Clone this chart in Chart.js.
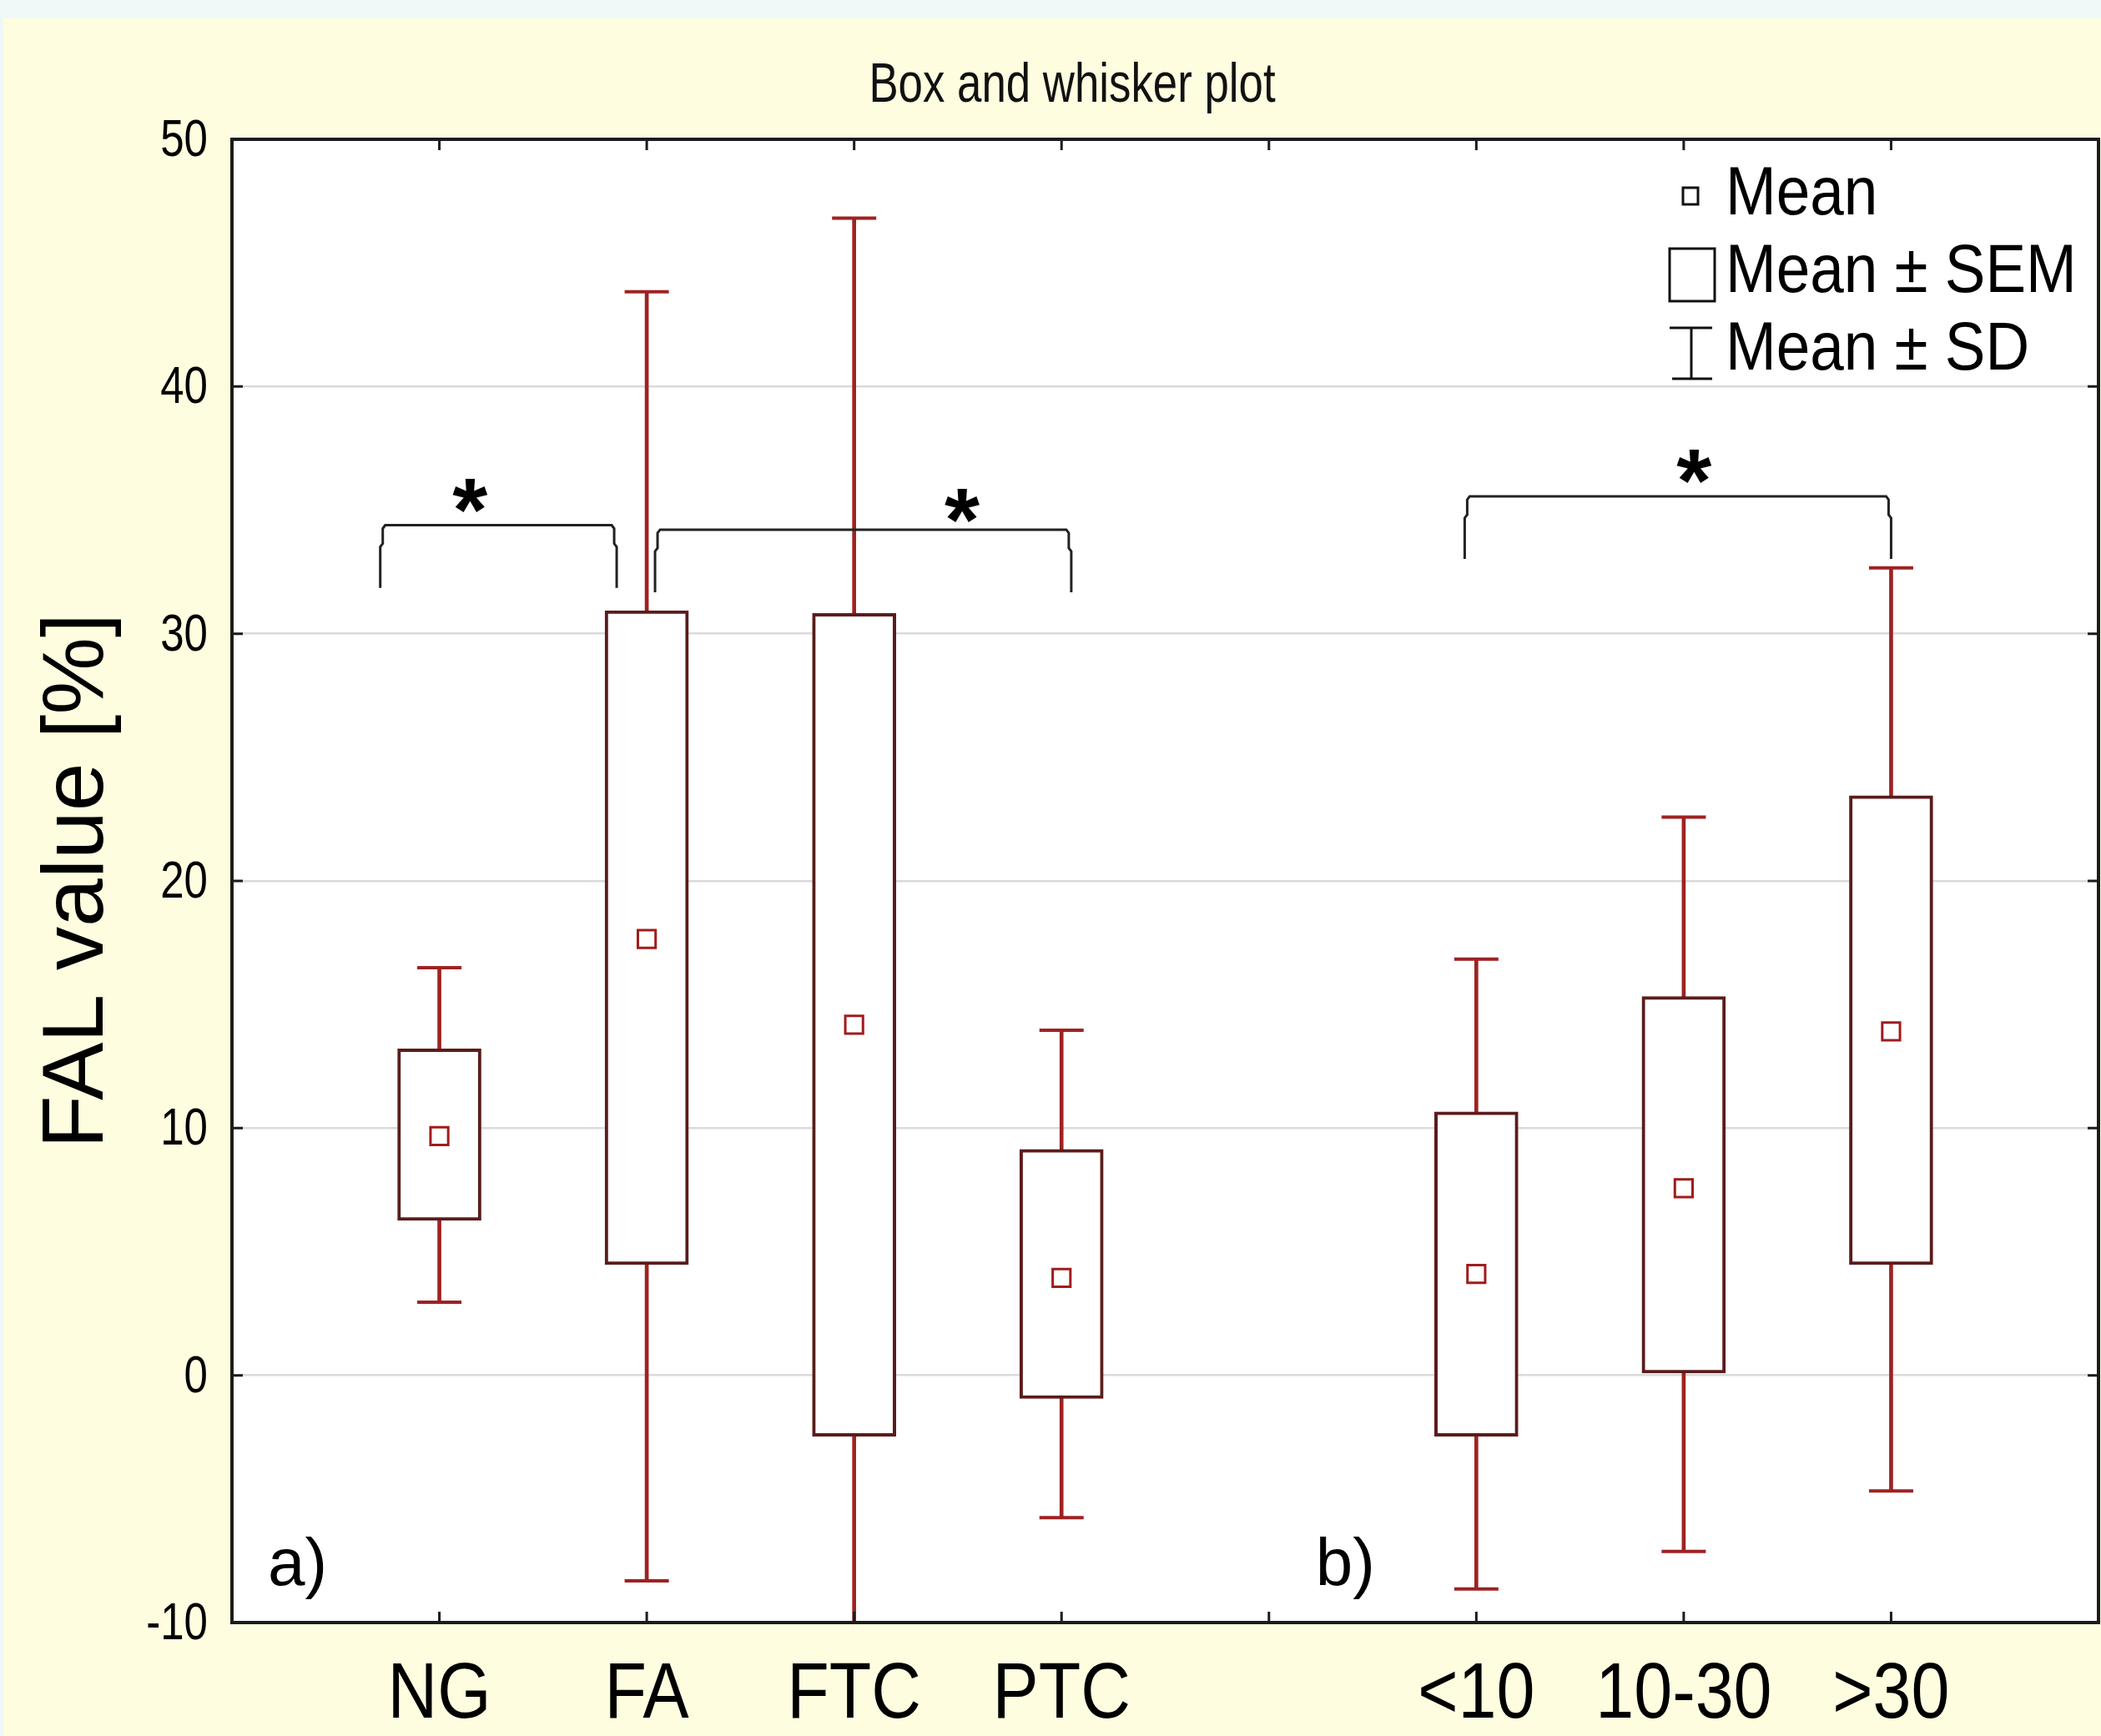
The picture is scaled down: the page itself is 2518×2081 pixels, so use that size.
<!DOCTYPE html>
<html>
<head>
<meta charset="utf-8">
<script src="https://cdn.jsdelivr.net/npm/chart.js@4.4.1/dist/chart.umd.min.js"></script>
<style>
html,body{margin:0;padding:0;background:#FFFDE0;overflow:hidden;}
canvas{display:block;}
</style>
</head>
<body>
<canvas id="c" width="2518" height="2081" style="width:2518px;height:2081px;"></canvas>
<script>
// ---- data ----
const groupA = ['NG', 'FA', 'FTC', 'PTC'];
const groupB = ['<10', '10-30', '>30'];
const means   = [9.68, 17.65, 14.18, 3.94, 4.10, 7.57, 13.91];
const semLow  = [6.27, 4.48, -2.46, -0.94, -2.46, 0.09, 4.48];
const semHigh = [13.21, 30.93, 30.82, 9.14, 10.66, 15.32, 23.45];
const sdLow   = [2.96, -8.31, -18.5, -5.76, -8.64, -7.12, -4.68];
const sdHigh  = [16.49, 43.83, 46.81, 13.96, 16.84, 22.58, 32.66];
const yTicks  = [-10, 0, 10, 20, 30, 40, 50];
const legendLabels = ['Mean', 'Mean ± SEM', 'Mean ± SD'];
const panelLabels = ['a)', 'b)'];
const panelLabelAt = [[0.173, -8.48], [5.225, -8.48]];
const titleText = 'Box and whisker plot';
const yTitle = 'FAL value [%]';
// significance brackets (category-index units / data units)
const bracketFrom = [0.715, 2.04, 5.944];
const bracketTo   = [1.855, 4.047, 8.0];
const bracketTop  = [34.39, 34.21, 35.56];
const bracketLeg  = [31.85, 31.68, 33.03];
const starX = [1.148, 3.52, 7.05];
const starY = [35.56, 35.17, 36.74];

const REG = "'Liberation Sans', Arial, sans-serif";
const WHISKER = '#9e2222';
const BOXEDGE = '#5b1c1c';
const MEANCOL = '#a01c1c';

const xLabels = ['', ...groupA, '', ...groupB, ''];
const slotIndex = [];
xLabels.forEach((l, i) => { if (l !== '') slotIndex.push(i); });
function spread(vals) {
  const out = xLabels.map(() => null);
  vals.forEach((v, k) => { out[slotIndex[k]] = v; });
  return out;
}

function drawScaledText(ctx, text, x, y, font, sx, align) {
  ctx.save();
  ctx.font = font;
  ctx.translate(x, y);
  ctx.scale(sx, 1);
  ctx.textAlign = align || 'left';
  ctx.textBaseline = 'alphabetic';
  ctx.fillText(text, 0, 0);
  ctx.restore();
}

const decor = {
  id: 'decor',
  beforeDraw(chart) {
    const ctx = chart.ctx, a = chart.chartArea;
    ctx.save();
    ctx.fillStyle = '#FFFDE0';
    ctx.fillRect(0, 0, chart.width, chart.height);
    ctx.fillStyle = '#EEF9F8';
    ctx.fillRect(0, 0, chart.width, 22);
    ctx.fillRect(0, 0, 4, chart.height);
    ctx.fillStyle = '#ffffff';
    ctx.fillRect(a.left, a.top, a.right - a.left, a.bottom - a.top);
    ctx.restore();
  },
  afterDraw(chart) {
    const ctx = chart.ctx, a = chart.chartArea;
    const xs = chart.scales.x, ys = chart.scales.y;
    ctx.save();
    // frame
    ctx.strokeStyle = '#1c1c1c';
    ctx.lineWidth = 4;
    ctx.strokeRect(a.left, a.top, a.right - a.left, a.bottom - a.top);
    // inward ticks
    ctx.lineWidth = 3;
    ctx.beginPath();
    for (let i = 1; i < xLabels.length - 1; i++) {
      const px = xs.getPixelForValue(i);
      ctx.moveTo(px, a.bottom); ctx.lineTo(px, a.bottom - 13);
      ctx.moveTo(px, a.top); ctx.lineTo(px, a.top + 13);
    }
    ys.ticks.forEach(t => {
      const py = ys.getPixelForValue(t.value);
      ctx.moveTo(a.left, py); ctx.lineTo(a.left + 13, py);
      ctx.moveTo(a.right, py); ctx.lineTo(a.right - 13, py);
    });
    ctx.stroke();

    // tick labels, placed by the library's scales
    ctx.fillStyle = '#000';
    xLabels.forEach((lab, i) => {
      if (!lab) return;
      drawScaledText(ctx, lab, xs.getPixelForValue(i), a.bottom + 114, '95px ' + REG, 0.87, 'center');
    });
    ys.ticks.forEach(t => {
      drawScaledText(ctx, String(t.value), a.left - 29, ys.getPixelForValue(t.value) + 20, '63px ' + REG, 0.81, 'right');
    });

    // title
    ctx.fillStyle = '#111';
    drawScaledText(ctx, titleText, 1285, 122, '66px ' + REG, 0.80, 'center');

    // y axis title
    ctx.save();
    ctx.translate(123, (ys.getPixelForValue(50) + ys.getPixelForValue(-10)) / 2);
    ctx.rotate(-Math.PI / 2);
    ctx.font = '104px ' + REG;
    ctx.textAlign = 'center';
    ctx.textBaseline = 'alphabetic';
    ctx.fillStyle = '#000';
    ctx.fillText(yTitle, 0, 0);
    ctx.restore();

    // significance brackets
    ctx.strokeStyle = '#222';
    ctx.lineWidth = 3;
    for (let k = 0; k < bracketFrom.length; k++) {
      const x1 = xs.getPixelForValue(bracketFrom[k]);
      const x2 = xs.getPixelForValue(bracketTo[k]);
      const yt = ys.getPixelForValue(bracketTop[k]);
      const yl = ys.getPixelForValue(bracketLeg[k]);
      ctx.beginPath();
      ctx.moveTo(x1, yl);
      ctx.lineTo(x1, yt + 26);
      ctx.lineTo(x1 + 3, yt + 22);
      ctx.lineTo(x1 + 3, yt + 4);
      ctx.lineTo(x1 + 6, yt);
      ctx.lineTo(x2 - 6, yt);
      ctx.lineTo(x2 - 3, yt + 4);
      ctx.lineTo(x2 - 3, yt + 22);
      ctx.lineTo(x2, yt + 26);
      ctx.lineTo(x2, yl);
      ctx.stroke();
      ctx.font = 'bold 108px ' + REG;
      ctx.textAlign = 'center';
      ctx.textBaseline = 'alphabetic';
      const m = ctx.measureText('*');
      const cy = ys.getPixelForValue(starY[k]);
      const base = cy + (m.actualBoundingBoxAscent - m.actualBoundingBoxDescent) / 2;
      ctx.fillStyle = '#000';
      ctx.fillText('*', xs.getPixelForValue(starX[k]), base);
    }

    // panel labels
    ctx.fillStyle = '#000';
    panelLabels.forEach((t, i) => {
      ctx.font = '80px ' + REG;
      ctx.textAlign = 'left';
      ctx.textBaseline = 'alphabetic';
      ctx.fillText(t, xs.getPixelForValue(panelLabelAt[i][0]), ys.getPixelForValue(panelLabelAt[i][1]));
    });

    // legend
    const lx = a.right - 515;
    ctx.strokeStyle = '#111';
    ctx.lineWidth = 3;
    ctx.strokeRect(lx + 17, 225, 18, 20);
    ctx.strokeRect(lx + 1, 298, 54, 63);
    ctx.beginPath();
    ctx.moveTo(lx + 1, 393); ctx.lineTo(lx + 52, 393);
    ctx.moveTo(lx + 27, 393); ctx.lineTo(lx + 27, 454);
    ctx.moveTo(lx + 4, 454); ctx.lineTo(lx + 52, 454);
    ctx.stroke();
    ctx.fillStyle = '#000';
    const lb = [257, 350, 443];
    legendLabels.forEach((t, i) => {
      drawScaledText(ctx, t, lx + 68, lb[i], '81px ' + REG, 0.90, 'left');
    });
    ctx.restore();
  }
};

const ctx = document.getElementById('c').getContext('2d');
new Chart(ctx, {
  type: 'bar',
  data: {
    labels: xLabels,
    datasets: [
      {
        label: 'Mean ± SD',
        data: spread(sdLow.map((l, i) => [l, sdHigh[i]])),
        backgroundColor: WHISKER,
        borderWidth: 0,
        barThickness: 4,
        grouped: false,
        order: 4
      },
      {
        label: 'Mean ± SEM',
        data: spread(semLow.map((l, i) => [l, semHigh[i]])),
        backgroundColor: '#ffffff',
        borderColor: BOXEDGE,
        borderWidth: 4,
        borderSkipped: false,
        barThickness: 100,
        grouped: false,
        order: 3
      },
      {
        type: 'line',
        label: 'SD high',
        data: spread(sdHigh),
        showLine: false,
        pointStyle: 'line',
        pointRadius: 26.5,
        pointBorderWidth: 4,
        pointBorderColor: WHISKER,
        borderColor: WHISKER,
        clip: 0,
        order: 2
      },
      {
        type: 'line',
        label: 'SD low',
        data: spread(sdLow),
        showLine: false,
        pointStyle: 'line',
        pointRadius: 26.5,
        pointBorderWidth: 4,
        pointBorderColor: WHISKER,
        borderColor: WHISKER,
        clip: 0,
        order: 2
      },
      {
        type: 'line',
        label: 'Mean',
        data: spread(means),
        showLine: false,
        pointStyle: 'rect',
        pointRadius: 15,
        pointBorderWidth: 3,
        pointBackgroundColor: '#ffffff',
        pointBorderColor: MEANCOL,
        borderColor: MEANCOL,
        order: 1
      }
    ]
  },
  options: {
    responsive: false,
    maintainAspectRatio: false,
    devicePixelRatio: 1,
    animation: false,
    events: [],
    layout: { autoPadding: false, padding: { top: 167, right: 3, left: 0, bottom: 0 } },
    plugins: { legend: { display: false }, tooltip: { enabled: false }, title: { display: false } },
    scales: {
      x: {
        type: 'category',
        offset: false,
        grid: { display: false, drawTicks: false },
        border: { display: false },
        ticks: { display: false, autoSkip: false, maxRotation: 0, minRotation: 0 },
        afterFit(s) { s.height = 136; s.paddingLeft = 0; s.paddingRight = 0; }
      },
      y: {
        min: -10, max: 50,
        afterBuildTicks(s) { s.ticks = yTicks.map(v => ({ value: v })); },
        grid: { color: '#dadada', lineWidth: 2.5, drawTicks: false },
        border: { display: false },
        ticks: { display: false },
        afterFit(s) { s.width = 278; s.paddingTop = 0; s.paddingBottom = 0; }
      }
    }
  },
  plugins: [decor]
});
</script>
</body>
</html>
